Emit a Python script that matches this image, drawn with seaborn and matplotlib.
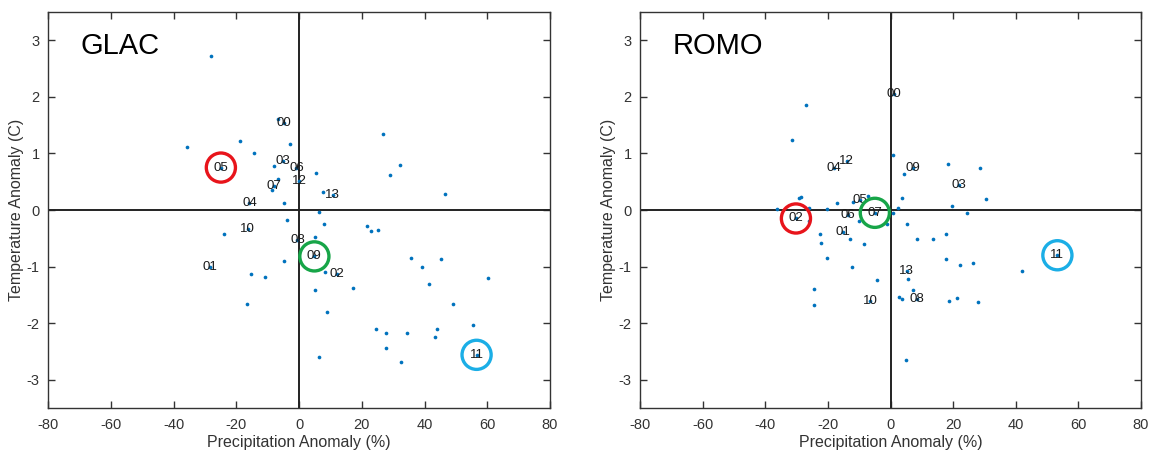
import matplotlib
matplotlib.use("Agg")
import matplotlib.pyplot as plt
import seaborn as sns
import pandas as pd

# ---------------- data ----------------
years = ["00", "01", "02", "03", "04", "05", "06", "07", "08", "09", "10", "11", "12", "13"]

glac_lab_x = [-4.7, -28.4, 12.1, -5.0, -15.8, -24.9, -0.8, -7.9, -0.5, 4.9, -16.3, 56.6, 0.1, 10.7]
glac_lab_y = [1.53, -1.00, -1.13, 0.87, 0.12, 0.75, 0.75, 0.43, -0.53, -0.82, -0.34, -2.56, 0.52, 0.26]

glac_x = [-28.0, -35.7, -18.8, -14.2, -2.9, -7.9, -6.7, -8.6, -4.7, 5.4, 7.8, 26.8, 32.1, 29.1,
          46.6, 6.5, -3.9, 8.0, -24.0, 5.2, 21.6, 23.1, 25.2, -4.7, -15.4, -10.9, -16.5, 8.2,
          5.0, 17.2, 9.0, 35.8, 45.4, 39.1, 41.3, 60.2, 49.0, 55.5, 24.4, 27.7, 34.5, 44.1,
          43.5, 27.7, 32.6, 6.5, -6.6]
glac_y = [2.72, 1.11, 1.22, 1.01, 1.16, 0.78, 0.55, 0.35, 0.13, 0.66, 0.32, 1.35, 0.80, 0.62,
          0.29, -0.04, -0.18, -0.24, -0.43, -0.47, -0.29, -0.38, -0.35, -0.90, -1.13, -1.19, -1.66, -1.09,
          -1.42, -1.38, -1.81, -0.84, -0.87, -1.01, -1.31, -1.21, -1.66, -2.04, -2.10, -2.18, -2.18, -2.10,
          -2.24, -2.44, -2.69, -2.59, 1.60]

romo_lab_x = [1.2, -15.3, -30.2, 21.9, -18.0, -9.7, -13.5, -5.0, 8.4, 7.3, -6.5, 53.3, -14.0, 5.2]
romo_lab_y = [2.05, -0.39, -0.15, 0.44, 0.74, 0.18, -0.09, -0.05, -1.57, 0.75, -1.61, -0.80, 0.87, -1.07]

romo_x = [-27.0, -31.4, -29.2, -28.6, -17.0, -11.9, -7.1, -36.3, -26.0, -20.4, -26.0, -10.0, -1.0,
          0.9, 2.5, 0.7, 4.2, 3.6, 18.5, 19.5, 28.6, 30.4, 24.3, -22.5, -22.2, -12.9, -8.4, -20.4,
          -12.2, 5.4, 8.4, 13.5, 17.7, 17.7, 22.3, 26.3, 41.9, 5.6, 7.1, 2.7, 3.8, 18.7, 21.3, 27.8,
          4.9, -4.3, -24.3, -24.5]
romo_y = [1.86, 1.23, 0.21, 0.23, 0.13, 0.15, 0.24, 0.01, 0.03, 0.02, -0.19, -0.20, -0.25,
          -0.06, 0.03, 0.98, 0.63, 0.22, 0.82, 0.07, 0.74, 0.20, -0.06, -0.43, -0.59, -0.52, -0.60, -0.84,
          -1.00, -0.25, -0.52, -0.52, -0.43, -0.87, -0.97, -0.94, -1.08, -1.22, -1.41, -1.54, -1.58, -1.60, -1.56, -1.62,
          -2.65, -1.24, -1.39, -1.68]

# highlighted years (red, green, blue)
glac_circled = ["05", "09", "11"]
romo_circled = ["02", "07", "11"]
circle_colors = ["#E8141B", "#17A548", "#1BAEE6"]

x_ticks = [-80, -60, -40, -20, 0, 20, 40, 60, 80]
y_ticks = [-3, -2, -1, 0, 1, 2, 3]

# ---------------- plotting ----------------
sns.set_theme(style="white")
plt.rcParams["font.family"] = ["Liberation Sans", "DejaVu Sans"]
plt.rcParams["axes.unicode_minus"] = False

fig = plt.figure(figsize=(11.53, 4.51), dpi=100)
ax1 = fig.add_axes([48 / 1153, 43 / 451, 502 / 1153, 396 / 451])
ax2 = fig.add_axes([640 / 1153, 43 / 451, 501 / 1153, 396 / 451])

dot_color = "#0072BD"


def draw(ax, name, px, py, lx, ly, circled):
    pts = pd.DataFrame({"x": list(px) + list(lx), "y": list(py) + list(ly)})
    ax.axhline(0, color="#222222", lw=1.4, zorder=1)
    ax.axvline(0, color="#222222", lw=1.4, zorder=1)
    sns.scatterplot(data=pts, x="x", y="y", ax=ax, color=dot_color, s=7,
                    linewidth=0, zorder=3, legend=False)
    for yr, xx, yy in zip(years, lx, ly):
        ax.text(xx, yy, yr, ha="center", va="center", fontsize=9.5,
                color="#1a1a1a", zorder=4)
    circ = pd.DataFrame({"x": [lx[years.index(c)] for c in circled],
                         "y": [ly[years.index(c)] for c in circled],
                         "c": circled})
    sns.scatterplot(data=circ, x="x", y="y", hue="c", palette=circle_colors,
                    ax=ax, s=440, marker="o", facecolor="none", linewidth=2.4,
                    zorder=5, legend=False)
    for coll in ax.collections[1:]:
        coll.set_facecolor("none")
        coll.set_edgecolor(circle_colors)
    ax.text(-69.5, 2.9, name, fontsize=21, ha="left", va="center", color="black")
    ax.set_xlim(-80, 80)
    ax.set_ylim(-3.5, 3.5)
    ax.set_xticks(x_ticks)
    ax.set_yticks(y_ticks)
    ax.set_xlabel("Precipitation Anomaly (%)", fontsize=11.5, color="#333333", labelpad=2)
    ax.set_ylabel("Temperature Anomaly (C)", fontsize=11.5, color="#333333", labelpad=2)
    ax.tick_params(direction="in", length=5, width=1, colors="#333333",
                   labelsize=10.5, top=True, right=True, bottom=True, left=True,
                   labelcolor="#333333")
    ax.tick_params(axis="x", pad=7)
    ax.tick_params(axis="y", pad=6)
    for sp in ax.spines.values():
        sp.set_color("#333333")
        sp.set_linewidth(1.0)


draw(ax1, "GLAC", glac_x, glac_y, glac_lab_x, glac_lab_y, glac_circled)
draw(ax2, "ROMO", romo_x, romo_y, romo_lab_x, romo_lab_y, romo_circled)

fig.savefig("out.png", dpi=100)
